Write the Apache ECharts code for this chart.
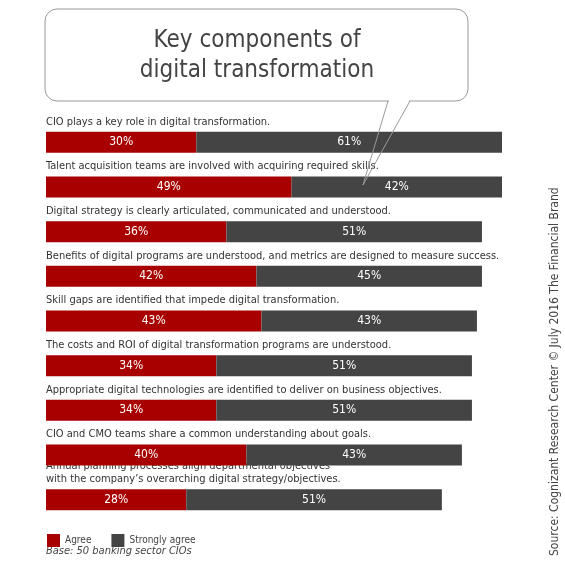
<!DOCTYPE html><html><head><meta charset="utf-8"><script src="https://cdn.jsdelivr.net/npm/echarts@6/dist/echarts.min.js"></script>
<style>html,body{margin:0;padding:0;background:#fff}#c{width:565px;height:564px}</style></head><body><div id="c"></div><script>
const categories=["CIO plays a key role in digital transformation.","Talent acquisition teams are involved with acquiring required skills.","Digital strategy is clearly articulated, communicated and understood.","Benefits of digital programs are understood, and metrics are designed to measure success.","Skill gaps are identified that impede digital transformation.","The costs and ROI of digital transformation programs are understood.","Appropriate digital technologies are identified to deliver on business objectives.","CIO and CMO teams share a common understanding about goals.","Annual planning processes align departmental objectives\nwith the company\u2019s overarching digital strategy/objectives."];
const agree=[30,49,36,42,43,34,34,40,28];
const stronglyAgree=[61,42,51,45,43,51,51,43,51];
const F="'DejaVu Sans Condensed','Liberation Sans Narrow',sans-serif";
const ch=echarts.init(document.getElementById('c'));
ch.setOption({animation:false,textStyle:{fontFamily:F},
grid:{left:46,right:63,top:120,bottom:42},
xAxis:{type:'value',min:0,max:91,show:false},
yAxis:{type:'category',inverse:true,data:categories,axisLine:{show:false},axisTick:{show:false},
 axisLabel:{inside:true,margin:0,verticalAlign:'bottom',padding:[0,0,14,0],color:'#333',fontSize:11,fontFamily:F,lineHeight:13}},
legend:{left:42,top:529,itemWidth:13,itemHeight:13,itemGap:20,icon:'rect',textStyle:{fontSize:10,color:'#444',fontFamily:F},data:['Agree','Strongly agree']},
series:[
 {name:'Agree',type:'bar',stack:'a',barWidth:21,data:agree,itemStyle:{color:'#a80000'},label:{show:true,formatter:'{c}%',color:'#fff',fontSize:12,fontFamily:F}},
 {name:'Strongly agree',type:'bar',stack:'a',barWidth:21,data:stronglyAgree,itemStyle:{color:'#444444'},label:{show:true,formatter:'{c}%',color:'#fff',fontSize:12,fontFamily:F}}
],
graphic:[
 {type:'rect',z:10,shape:{x:45,y:9,width:423,height:92,r:12},style:{fill:'#fff',stroke:'#999',lineWidth:1}},
 {type:'rect',z:11,shape:{x:389,y:99,width:20,height:4},style:{fill:'#fff'}},
 {type:'polyline',z:12,shape:{points:[[388,101],[363,185],[410,101]]},style:{fill:null,stroke:'#999',lineWidth:1}},
 {type:'text',z:13,x:257,y:26,style:{text:'Key components of\ndigital transformation',font:"24px "+F,fill:'#444',align:'center',lineHeight:30}},
 {type:'text',left:46,top:546,style:{text:'Base: 50 banking sector CIOs',font:"italic 11px "+F,fill:'#444'}},
 {type:'text',x:561,y:556,rotation:Math.PI/2,style:{text:'Source: Cognizant Research Center \u00a9 July 2016 The Financial Brand',font:"12px "+F,fill:'#444',verticalAlign:'bottom'}}
]});
</script></body></html>
